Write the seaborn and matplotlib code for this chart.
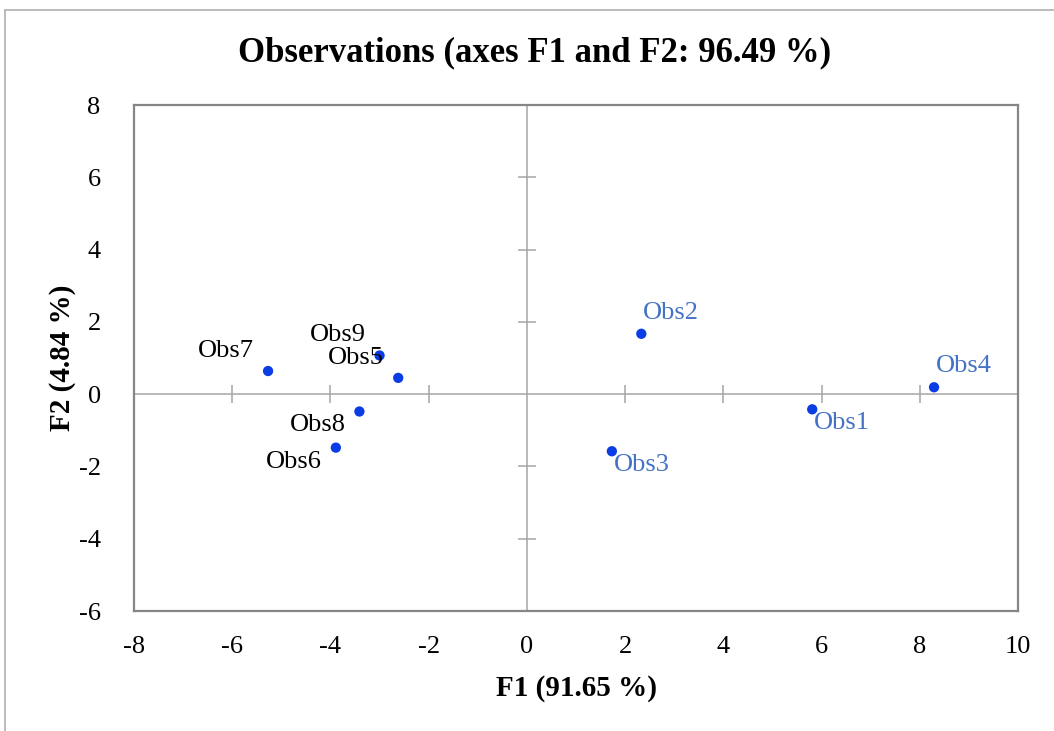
import matplotlib
matplotlib.use("Agg")
import numpy as np
import pandas as pd
import seaborn as sns
from matplotlib import pyplot as plt
from matplotlib.lines import Line2D

# observation scores on the first two factors
obs_names = ["Obs1", "Obs2", "Obs3", "Obs4", "Obs5", "Obs6", "Obs7", "Obs8", "Obs9"]
f1_scores = [5.81, 2.33, 1.73, 8.29, -2.62, -3.89, -5.27, -3.41, -3.00]
f2_scores = [-0.42, 1.67, -1.58, 0.19, 0.45, -1.48, 0.64, -0.48, 1.07]
obs_group = ["blue", "blue", "blue", "blue", "black", "black", "black", "black", "black"]

x_ticks = [-8, -6, -4, -2, 0, 2, 4, 6, 8, 10]
y_ticks = [-6, -4, -2, 0, 2, 4, 6, 8]

df = pd.DataFrame({"name": obs_names, "F1": f1_scores, "F2": f2_scores, "group": obs_group})

sns.set_style("white")
plt.rcParams["font.family"] = ["Liberation Serif", "DejaVu Serif"]
plt.rcParams["text.color"] = "black"
plt.rcParams["xtick.color"] = "black"
plt.rcParams["ytick.color"] = "black"

fig = plt.figure(figsize=(10.54, 7.31), dpi=100)
ax = fig.add_axes([134 / 1054, 1 - 611 / 731, (1018 - 134) / 1054, (611 - 105) / 731])

# zero lines with their own little ticks
grey = "#a6a6a6"
ax.axhline(0, color=grey, lw=1.1, zorder=1)
ax.axvline(0, color=grey, lw=1.1, zorder=1)
xt = [t for t in x_ticks if t not in (x_ticks[0], 0, x_ticks[-1])]
yt = [t for t in y_ticks if t not in (y_ticks[0], 0, y_ticks[-1])]
ax.plot(xt, np.zeros(len(xt)), ls="none", marker="|", ms=13, mew=1.1, color=grey, zorder=1)
ax.plot(np.zeros(len(yt)), yt, ls="none", marker="_", ms=13, mew=1.1, color=grey, zorder=1)

sns.scatterplot(data=df, x="F1", y="F2", color="#0a3de6", s=55, edgecolor="none", ax=ax, zorder=3)

label_colors = {"blue": "#4472C4", "black": "black"}
for _, r in df.iterrows():
    if r.F1 > 0:
        dx = 30
        dy = 21 if r.name in (1, 3) else -14
    else:
        dx = -42
        dy = 20 if r.F2 > 0 else -14
    ax.annotate(r["name"], (r.F1, r.F2), xytext=(dx, dy), textcoords="offset pixels",
                ha="center", va="center", fontsize=19, color=label_colors[r.group])

ax.set_xlim(x_ticks[0], x_ticks[-1])
ax.set_ylim(y_ticks[0], y_ticks[-1])
ax.set_xticks(x_ticks)
ax.set_yticks(y_ticks)
ax.set_xticklabels([str(t) for t in x_ticks])
ax.set_yticklabels([str(t) for t in y_ticks])
ax.tick_params(length=0, labelsize=19, pad=18)
ax.tick_params(axis="y", pad=24)
for s in ax.spines.values():
    s.set_color("#868686")
    s.set_linewidth(1.6)
ax.set_xlabel("")
ax.set_ylabel("")

fig.text(576 / 1054, 1 - 688 / 731, "F1 (91.65 %)", ha="center", va="center", fontsize=21, fontweight="bold")
fig.text(62 / 1054, 1 - 358 / 731, "F2 (4.84 %)", ha="center", va="center", rotation=90, fontsize=21, fontweight="bold")
fig.text(535 / 1054, 1 - 53 / 731, "Observations (axes F1 and F2: 96.49 %)", ha="center", va="center",
         fontsize=25, fontweight="bold")

# outer chart frame (cut off at right and bottom)
fig.add_artist(Line2D([5 / 1054, 5 / 1054], [0, 1 - 10 / 731], color="#b0b0b0", lw=1.2, transform=fig.transFigure))
fig.add_artist(Line2D([5 / 1054, 1], [1 - 10 / 731, 1 - 10 / 731], color="#b0b0b0", lw=1.2, transform=fig.transFigure))

fig.savefig("out.png", dpi=100)
